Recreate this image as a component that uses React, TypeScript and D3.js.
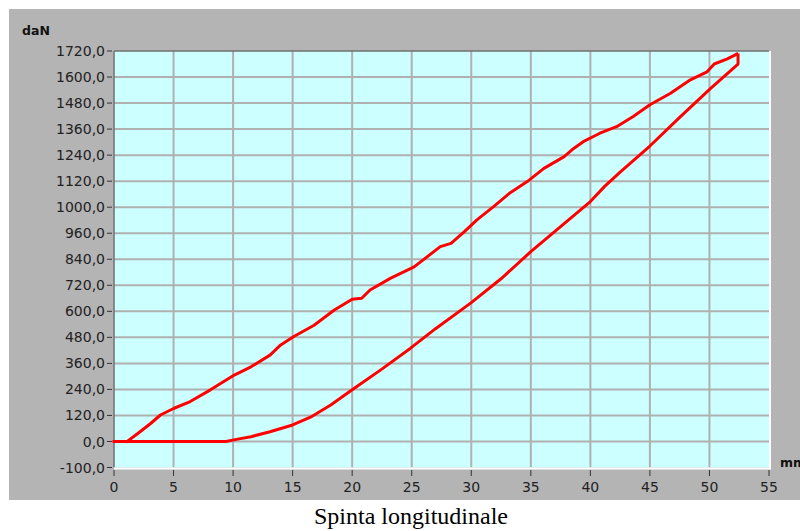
import * as d3 from "d3";
import React from "react";

// asse x (mm)
const xTicks = [0, 5, 10, 15, 20, 25, 30, 35, 40, 45, 50, 55];
// asse y (daN) - etichette come stampate dal software, equispaziate
const yTicks = [-100, 0, 120, 240, 360, 480, 600, 720, 840, 960, 1000, 1120, 1240, 1360, 1480, 1600, 1720];
const yTickLabels = ["-100,0", "0,0", "120,0", "240,0", "360,0", "480,0", "600,0", "720,0", "840,0", "960,0",
  "1000,0", "1120,0", "1240,0", "1360,0", "1480,0", "1600,0", "1720,0"];

// ramo inferiore [mm, daN]
const lowerBranch: [number, number][] = [
  [0, 0], [9.4, 0], [10.5, 12], [11.5, 22], [13.1, 45], [15.0, 76], [16.5, 112], [18.2, 168],
  [20.0, 238], [22.4, 330], [24.9, 430], [27.0, 520], [30.0, 640], [32.5, 750], [35.0, 875],
  [37.5, 970], [40.0, 1026], [41.2, 1096], [42.5, 1162], [45.0, 1282], [47.5, 1414],
  [50.1, 1548], [52.4, 1660], [52.4, 1702],
];

// ramo superiore [mm, daN]
const upperBranch: [number, number][] = [
  [52.3, 1706], [51.5, 1684], [50.4, 1660], [49.8, 1624], [48.4, 1587], [46.7, 1524], [45.0, 1472],
  [43.6, 1418], [42.2, 1371], [40.8, 1341], [39.4, 1302], [38.6, 1271], [37.8, 1233], [36.1, 1179],
  [34.7, 1118], [33.3, 1068], [31.9, 1004], [30.5, 981], [29.4, 962], [28.3, 913], [27.4, 898],
  [25.2, 805], [23.2, 752], [21.5, 698], [20.8, 660], [20.0, 656], [18.5, 606], [16.8, 536],
  [15.1, 484], [14.0, 445], [13.1, 398], [11.5, 344], [10.1, 306], [8.1, 238], [6.4, 184],
  [5.0, 152], [3.9, 122], [3.1, 84], [2.0, 37], [1.1, 0],
];

const W = 800;
const H = 531;
const plot = { left: 114, top: 51, right: 769, bottom: 467.5 };

export default function App() {
  const x = d3.scaleLinear().domain([0, 55]).range([plot.left, plot.right]);
  // le etichette sono equispaziate anche se i valori non lo sono
  const step = (plot.bottom - plot.top) / (yTicks.length - 1);
  const y = d3.scaleLinear()
    .domain(yTicks)
    .range(yTicks.map((_, i) => plot.bottom - i * step));

  const line = d3.line<[number, number]>()
    .x(d => x(d[0]))
    .y(d => y(d[1]));

  const font = "'DejaVu Sans', Arial, sans-serif";

  return (
    <svg width={W} height={H} style={{ position: "absolute", left: 0, top: 0, background: "#fff" }}>
      <rect x={9} y={9} width={W - 9} height={491} fill="#b4b4b4" />
      <rect x={plot.left} y={plot.top} width={plot.right - plot.left} height={plot.bottom - plot.top} fill="#ccffff" />

      {/* griglia */}
      {xTicks.slice(1, -1).map(t => (
        <line key={"gx" + t} x1={x(t)} x2={x(t)} y1={plot.top} y2={plot.bottom} stroke="#b0b0b0" strokeWidth={2} />
      ))}
      {yTicks.slice(1, -1).map(t => (
        <line key={"gy" + t} x1={plot.left} x2={plot.right} y1={y(t)} y2={y(t)} stroke="#b0b0b0" strokeWidth={2} />
      ))}

      {/* bordo 3D */}
      <line x1={plot.left} x2={plot.right} y1={plot.top} y2={plot.top} stroke="#707070" strokeWidth={1.5} />
      <line x1={plot.left} x2={plot.left} y1={plot.top} y2={plot.bottom} stroke="#707070" strokeWidth={1.5} />
      <line x1={plot.left} x2={plot.right + 1} y1={plot.bottom + 1} y2={plot.bottom + 1} stroke="#ffffff" strokeWidth={2} />
      <line x1={plot.right + 1} x2={plot.right + 1} y1={plot.top} y2={plot.bottom + 2} stroke="#ffffff" strokeWidth={2} />

      {/* asse y */}
      {yTicks.map((t, i) => (
        <g key={"ty" + i}>
          <line x1={107} x2={112} y1={y(t)} y2={y(t)} stroke="#333" strokeWidth={1} />
          <text x={105} y={y(t)} dy="0.36em" textAnchor="end" fontFamily={font} fontSize={14} fill="#222">
            {yTickLabels[i]}
          </text>
        </g>
      ))}

      {/* asse x */}
      {xTicks.map(t => (
        <g key={"tx" + t}>
          <line x1={x(t)} x2={x(t)} y1={470} y2={476} stroke="#333" strokeWidth={1} />
          <text x={x(t)} y={492} textAnchor="middle" fontFamily={font} fontSize={14} fill="#222">
            {t}
          </text>
        </g>
      ))}

      <text x={22} y={35} fontFamily={font} fontSize={12.5} fontWeight="bold" fill="#111">daN</text>
      {/* nell'originale "mm" è tagliato dal bordo destro */}
      <text x={780} y={467} fontFamily={font} fontSize={12.5} fontWeight="bold" fill="#111">mm</text>

      {/* curve */}
      <path d={line(lowerBranch) ?? ""} fill="none" stroke="#ff0000" strokeWidth={3} strokeLinejoin="round" strokeLinecap="square" />
      <path d={line(upperBranch) ?? ""} fill="none" stroke="#ff0000" strokeWidth={3} strokeLinejoin="round" strokeLinecap="square" />

      <text x={411} y={524} textAnchor="middle" fontFamily="'Liberation Serif', 'Times New Roman', serif" fontSize={24} fill="#000">
        Spinta longitudinale
      </text>
    </svg>
  );
}
